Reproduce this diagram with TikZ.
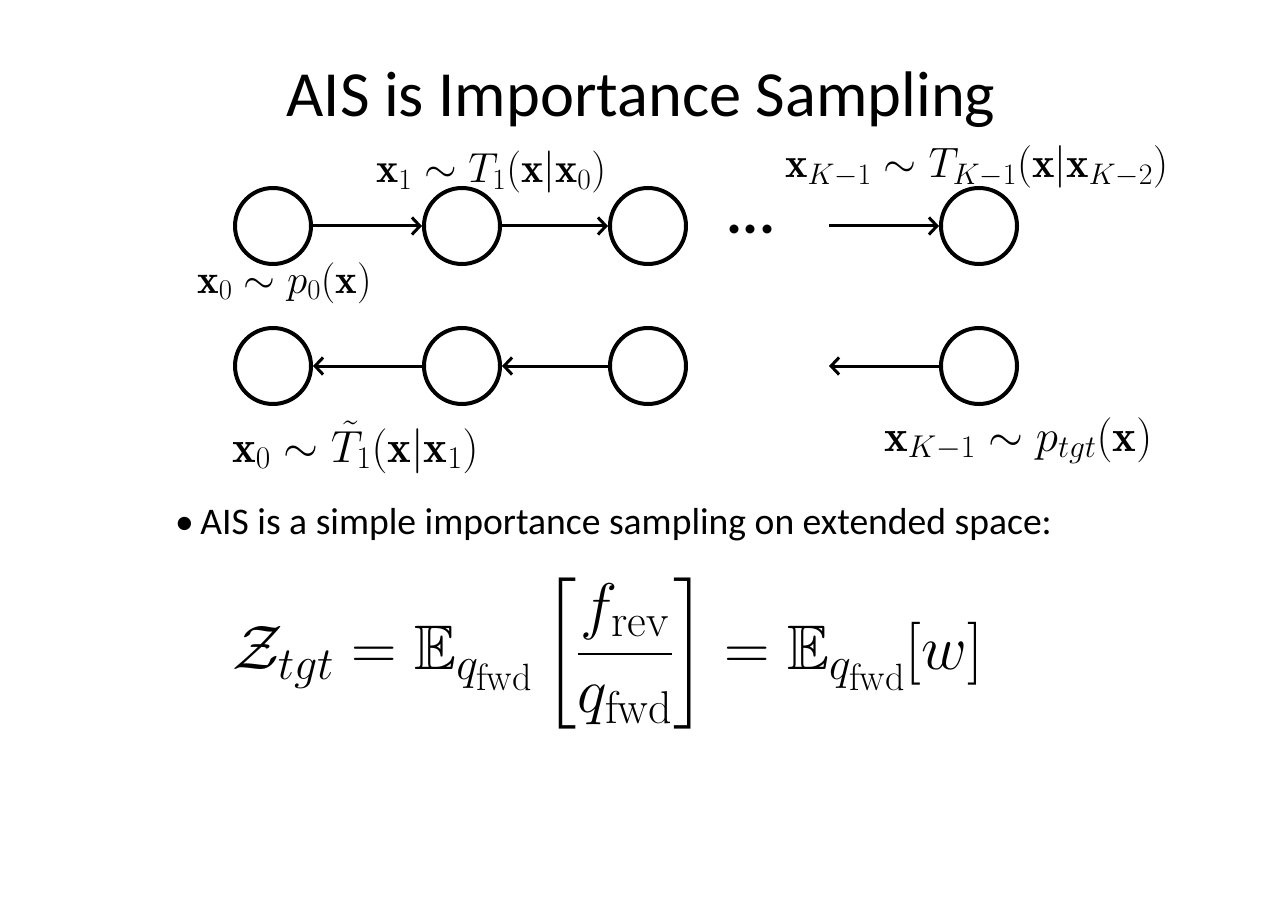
\RequirePackage{fix-cm}
\documentclass[tikz,border=0pt]{standalone}
\usepackage{amsmath,amssymb}
\usepackage{fontspec}
\newfontfamily\calib{Carlito}
\usetikzlibrary{arrows.meta}
\DeclareMathSizes{63}{63}{46}{38}
\begin{document}
\begin{tikzpicture}[x=1pt,y=-1pt,
  state/.style={circle,draw,line width=4pt,minimum size=76pt,inner sep=0pt},
  arr/.style={line width=3pt,-{Straight Barb[length=8pt,width=17pt]}},
  mlab/.style={anchor=base west,inner sep=0pt},
  lbl/.style={inner sep=0pt}]
\useasboundingbox[fill=white] (0,0) rectangle (1280,904);
% title
\node[lbl,anchor=base] (title) at (641,117) {\calib\fontsize{64.4}{70}\selectfont AIS is Importance Sampling};
% top row
\node[state] (c1) at (273,226) {};
\node[state] (c2) at (462,226) {};
\node[state] (c3) at (648,226) {};
\node[state] (c4) at (979,226) {};
\coordinate (t0) at (829,226);
\node[lbl] (dots) at (751,229) {\calib\bfseries\fontsize{60}{60}\selectfont ...};
\draw[arr] (c1) -- (c2);
\draw[arr] (c2) -- (c3);
\draw[arr] (t0) -- (c4);
% bottom row
\node[state] (d1) at (273,366) {};
\node[state] (d2) at (462,366) {};
\node[state] (d3) at (648,366) {};
\node[state] (d4) at (979,366) {};
\coordinate (b0) at (829,366);
\draw[arr] (d2) -- (d1);
\draw[arr] (d3) -- (d2);
\draw[arr] (d4) -- (b0);
% labels
\node[mlab,font=\fontsize{42}{45}\selectfont] (l1) at (376,183) {$\mathbf{x}_1\sim T_1(\mathbf{x}|\mathbf{x}_0)$};
\node[mlab,font=\fontsize{42.5}{45}\selectfont] (lK) at (785,178) {$\mathbf{x}_{K-1}\sim T_{K-1}(\mathbf{x}|\mathbf{x}_{K-2})$};
\node[mlab,font=\fontsize{41}{45}\selectfont] (l0) at (197,293) {$\mathbf{x}_0\sim p_0(\mathbf{x})$};
\node[mlab,font=\fontsize{45}{48}\selectfont] (lb0) at (232,462) {$\mathbf{x}_0\sim \tilde{T}_1(\mathbf{x}|\mathbf{x}_1)$};
\node[mlab,font=\fontsize{45}{48}\selectfont] (lbK) at (884,451) {$\mathbf{x}_{K-1}\sim p_{tgt}(\mathbf{x})$};
% bullet
\node[lbl,anchor=base west] (bul) at (175,534) {\calib\fontsize{37.6}{42}\selectfont \textbullet\kern-2pt\ AIS is a simple importance sampling on extended space:};
% equation
\node[lbl,anchor=west] (eq) at (232,654) {\fontsize{63}{70}\selectfont $\displaystyle \mathcal{Z}_{tgt}=\mathbb{E}_{q_{\mathrm{fwd}}}\left[\frac{f_{\mathrm{rev}}}{q_{\mathrm{fwd}}}\right]=\mathbb{E}_{q_{\mathrm{fwd}}}[w]$};
\end{tikzpicture}
\end{document}
